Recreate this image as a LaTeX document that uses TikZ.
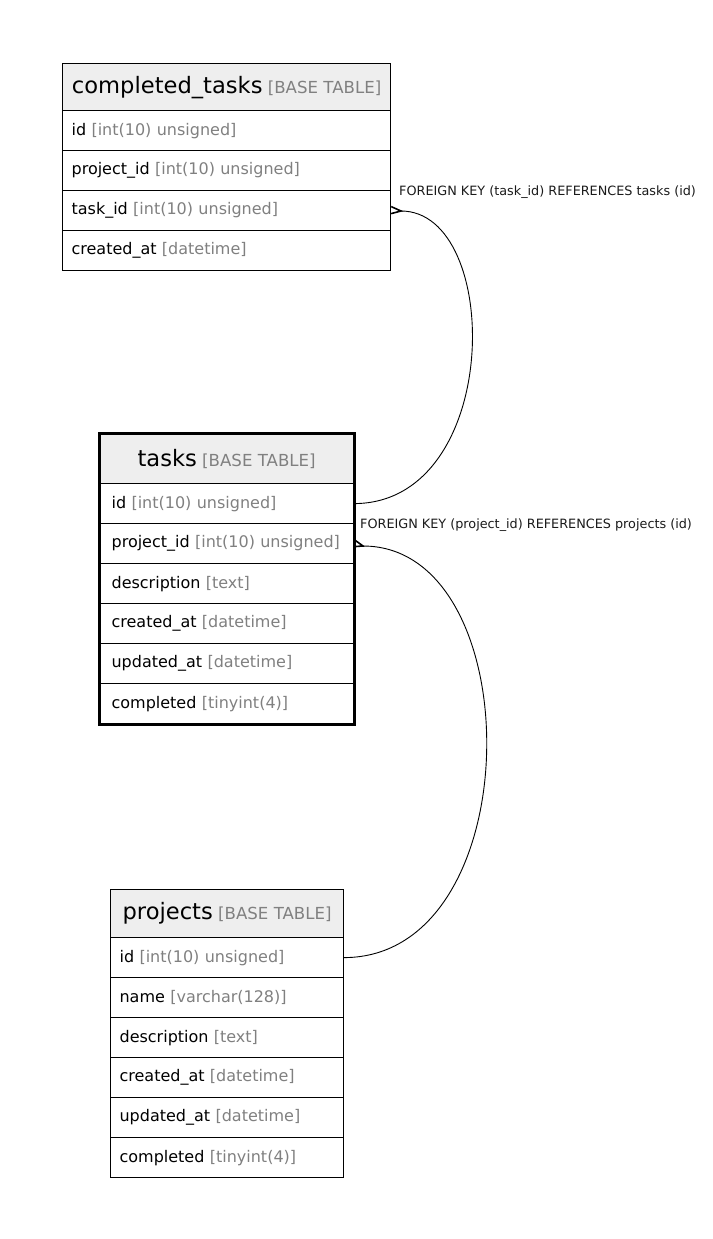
\documentclass[tikz,border=0pt]{standalone}
\usepackage{fontspec}
\setmainfont{DejaVu Sans}
\definecolor{hdrgray}{HTML}{EEEEEE}
\definecolor{typegray}{HTML}{808080}
\definecolor{lblgray}{HTML}{1A1A1A}
\tikzset{
  cell/.style={draw=black, line width=1.2pt, anchor=north west, inner xsep=9pt, inner ysep=0pt, minimum height=40pt, align=left, font=\fontsize{16}{19}\selectfont},
  hdrcell/.style={cell, fill=hdrgray, align=center},
  tcell/.style={cell, inner xsep=12pt},
  fklabel/.style={anchor=west, inner sep=0pt, text=lblgray, font=\fontsize{12.8}{15}\selectfont},
  rel/.style={line width=0.9pt},
  crow/.style={line width=1.6pt, line join=miter},
}
\newcommand\tname[1]{{\fontsize{22.6}{26}\selectfont #1}}
\newcommand\ttag{{\fontsize{16.6}{20}\selectfont\color{typegray}[BASE TABLE]}}
\newcommand\ftype[1]{{\color{typegray}[#1]}}
\begin{document}
\begin{tikzpicture}[x=1pt,y=-1pt]
\useasboundingbox (0,0) rectangle (712,1239);
% completed_tasks
\node[hdrcell, text width=310pt, minimum height=47pt] (cth) at (62,63) {\mbox{\tname{completed\_tasks} \ttag}};
\node[cell, text width=310pt] (ct1) at (62,110) {\mbox{id \ftype{int(10) unsigned}}};
\node[cell, text width=310pt] (ct2) at (62,150) {\mbox{project\_id \ftype{int(10) unsigned}}};
\node[cell, text width=310pt] (ct3) at (62,190) {\mbox{task\_id \ftype{int(10) unsigned}}};
\node[cell, text width=310pt] (ct4) at (62,230) {\mbox{created\_at \ftype{datetime}}};
% tasks
\node[hdrcell, inner xsep=12pt, text width=230pt, minimum height=50pt] (th) at (99,433) {\mbox{\tname{tasks} \ttag}};
\node[tcell, text width=230pt] (t1) at (99,483) {\mbox{id \ftype{int(10) unsigned}}};
\node[tcell, text width=230pt] (t2) at (99,523) {\mbox{project\_id \ftype{int(10) unsigned}}};
\node[tcell, text width=230pt] (t3) at (99,563) {\mbox{description \ftype{text}}};
\node[tcell, text width=230pt] (t4) at (99,603) {\mbox{created\_at \ftype{datetime}}};
\node[tcell, text width=230pt] (t5) at (99,643) {\mbox{updated\_at \ftype{datetime}}};
\node[tcell, text width=230pt] (t6) at (99,683) {\mbox{completed \ftype{tinyint(4)}}};
\draw[line width=3pt] (th.north west) rectangle (t6.south east);
% projects
\node[hdrcell, text width=215pt, minimum height=48pt] (ph) at (110,889) {\mbox{\tname{projects} \ttag}};
\node[cell, text width=215pt] (p1) at (110,937) {\mbox{id \ftype{int(10) unsigned}}};
\node[cell, text width=215pt] (p2) at (110,977) {\mbox{name \ftype{varchar(128)}}};
\node[cell, text width=215pt] (p3) at (110,1017) {\mbox{description \ftype{text}}};
\node[cell, text width=215pt] (p4) at (110,1057) {\mbox{created\_at \ftype{datetime}}};
\node[cell, text width=215pt] (p5) at (110,1097) {\mbox{updated\_at \ftype{datetime}}};
\node[cell, text width=215pt] (p6) at (110,1137) {\mbox{completed \ftype{tinyint(4)}}};
% relation 1
\coordinate (cf1) at (401,211);
\draw[rel] (t1.east) .. controls (503,503) and (503,211) .. (cf1);
\draw[crow] ([yshift=4pt]ct3.east) -- (cf1) -- ([yshift=-3pt]ct3.east);
\node[fklabel] (l1) at (399,192) {FOREIGN KEY (task\_id) REFERENCES tasks (id)};
% relation 2
\coordinate (cf2) at (363,546);
\draw[rel] (p1.east) .. controls (531,957) and (531,546) .. (cf2);
\draw[crow] ([yshift=4pt]t2.east) -- (cf2) -- ([yshift=-3pt]t2.east);
\node[fklabel] (l2) at (360,525) {FOREIGN KEY (project\_id) REFERENCES projects (id)};
\end{tikzpicture}
\end{document}
